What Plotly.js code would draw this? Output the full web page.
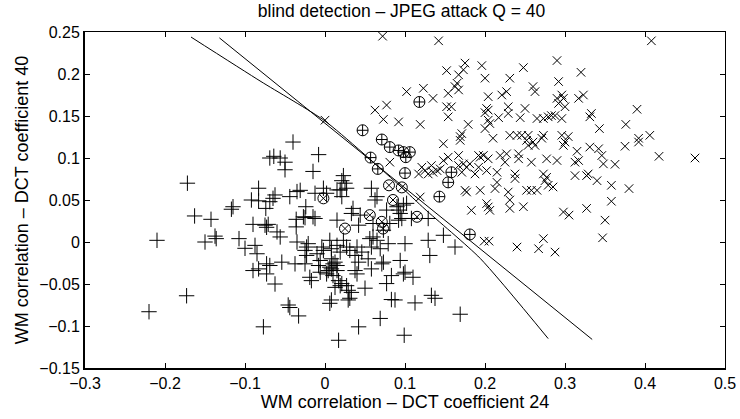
<!DOCTYPE html>
<html>
<head>
<meta charset="utf-8">
<script src="https://cdn.plot.ly/plotly-3.0.1.min.js"></script>
<style>html,body{margin:0;padding:0;background:#fff;}#chart{width:740px;height:419px;}</style>
</head>
<body>
<div id="chart"></div>
<script>
// Class "+" (correctly classified)
const plusX = [-0.172,-0.040,-0.069,-0.064,-0.056,-0.050,-0.050,-0.008,-0.015,0.023,0.021,0.025,0.027,0.019,0.015,-0.083,-0.092,-0.083,-0.0625,-0.065,-0.069,-0.074,-0.044,-0.035,-0.115,-0.117,-0.163,-0.1425,-0.210,-0.150,-0.1375,-0.136,-0.1075,-0.090,-0.075,-0.073,-0.071,-0.060,-0.056,-0.100,-0.0875,-0.085,-0.036,-0.036,-0.025,-0.024,-0.035,-0.023,-0.090,-0.083,-0.073,-0.069,-0.054,-0.0375,-0.073,-0.0625,-0.019,-0.017,-0.173,-0.220,-0.046,-0.044,-0.033,-0.077,0.017,0.042,-0.008,-0.006,0.004,0.002,0.006,0.015,-0.002,-0.010,-0.006,0.010,0.017,0.019,0.027,0.029,0.031,0.008,0.006,0.0375,0.040,0.050,-0.021,-0.025,-0.023,-0.025,-0.004,0.006,0.008,0.015,0.023,0.019,0.027,0.031,0.040,0.0375,0.046,0.042,0.054,0.058,0.065,0.069,0.079,0.071,0.058,0.056,0.008,0.010,0.015,0.008,0.0125,0.021,0.0125,0.033,0.029,0.077,0.083,0.098,0.110,0.094,0.100,0.129,0.131,0.148,0.1625,0.083,0.0875,0.1125,0.133,0.1375,0.169,0.069,0.099,0.100,0.073,0.073,0.081,0.060,0.108,0.094,0.129,-0.002,-0.0125,0.002,-0.027,0.021,0.058,0.065,0.0625,0.035,0.033,0.044,0.077,0.090,0.092,0.098,0.102,-0.0125,-0.015,0.015,0.042,0.060,0.092,0.096,-0.031];
const plusY = [0.070,0.119,0.100,0.102,0.100,0.095,0.086,0.104,0.084,0.079,0.073,0.070,0.064,0.062,0.062,0.064,0.050,0.049,0.056,0.052,0.048,0.040,0.054,0.060,0.042,0.039,0.031,0.027,0.002,0.000,0.007,0.004,0.004,0.021,0.020,0.0175,0.021,0.012,0.006,-0.0075,-0.004,-0.014,0.018,0.027,0.029,0.042,0.000,-0.006,-0.034,-0.032,-0.026,-0.028,-0.024,-0.026,-0.038,-0.050,-0.042,-0.046,-0.064,-0.083,-0.075,-0.078,-0.088,-0.101,-0.117,-0.101,-0.028,-0.036,-0.034,-0.038,-0.030,-0.028,-0.010,-0.014,-0.022,-0.040,-0.046,-0.052,-0.052,-0.0575,-0.067,-0.069,-0.073,-0.034,-0.038,-0.055,-0.002,-0.010,-0.016,-0.026,-0.006,0.002,-0.008,-0.004,0.002,-0.012,-0.006,-0.010,-0.006,-0.016,-0.012,-0.024,-0.020,-0.006,0.002,-0.008,-0.002,-0.026,-0.032,0.004,-0.032,-0.026,-0.034,-0.020,-0.024,-0.0495,-0.054,-0.060,-0.069,-0.0495,-0.040,-0.038,-0.042,-0.022,-0.002,0.002,-0.016,0.008,-0.006,-0.0685,-0.069,-0.0725,-0.0635,-0.067,-0.086,-0.091,-0.111,-0.036,-0.024,0.014,0.022,0.006,0.028,0.034,0.028,0.064,0.058,0.058,0.030,0.054,0.064,0.054,0.050,0.040,0.034,0.032,0.038,0.042,0.038,0.044,0.046,0.028,0.030,0.026,0.020,0.022,0.026,0.028,0.0615];
// Class "x" (correctly classified)
const crossX = [0.072,0.142,0.408,0.152,0.167,0.175,0.173,0.196,0.200,0.165,0.1625,0.167,0.154,0.102,0.123,0.135,0.231,0.248,0.290,0.292,0.320,0.152,0.158,0.154,0.119,0.0625,0.077,0.073,0.092,0.204,0.221,0.227,0.202,0.204,0.200,0.204,0.200,0.206,0.217,0.229,0.229,0.250,0.244,0.260,0.2625,0.265,0.273,0.279,0.283,0.2875,0.290,0.292,0.296,0.298,0.300,0.296,0.317,0.323,0.333,0.331,0.343,0.390,0.376,0.179,0.171,0.169,0.231,0.240,0.246,0.254,0.273,0.271,0.210,0.296,0.304,0.392,0.406,0.298,0.300,0.315,0.3125,0.317,0.331,0.342,0.346,0.348,0.3625,0.375,0.392,0.4175,0.4625,0.3125,0.327,0.329,0.340,0.358,0.380,0.358,0.298,0.305,0.327,0.350,0.347,0.148,0.169,0.154,0.167,0.148,0.121,0.125,0.129,0.135,0.133,0.140,0.144,0.117,0.167,0.173,0.177,0.181,0.171,0.192,0.194,0.198,0.204,0.1875,0.192,0.202,0.215,0.219,0.227,0.225,0.242,0.242,0.254,0.2625,0.260,0.258,0.277,0.290,0.175,0.177,0.194,0.215,0.2125,0.2375,0.2375,0.229,0.231,0.231,0.248,0.252,0.258,0.265,0.273,0.277,0.275,0.279,0.285,0.202,0.204,0.206,0.183,0.199,0.205,0.240,0.267,0.273,0.2875,0.119,0.000,0.081,0.252];
const crossY = [0.245,0.2395,0.2395,0.204,0.199,0.213,0.205,0.210,0.195,0.189,0.185,0.181,0.177,0.179,0.183,0.171,0.195,0.2076,0.216,0.191,0.202,0.161,0.161,0.149,0.140,0.157,0.163,0.146,0.143,0.173,0.175,0.179,0.159,0.157,0.154,0.145,0.135,0.141,0.148,0.161,0.153,0.159,0.148,0.185,0.179,0.147,0.147,0.149,0.1505,0.1505,0.171,0.165,0.175,0.171,0.161,0.147,0.171,0.175,0.153,0.149,0.135,0.158,0.140,0.140,0.129,0.1255,0.127,0.127,0.127,0.127,0.127,0.1235,0.1235,0.127,0.1255,0.1235,0.127,0.115,0.119,0.108,0.095,0.097,0.113,0.111,0.103,0.093,0.0925,0.114,0.119,0.102,0.100,0.079,0.079,0.081,0.073,0.0675,0.0636,0.0485,0.0357,0.032,0.040,0.026,0.005,0.117,0.121,0.101,0.103,0.097,0.089,0.085,0.081,0.083,0.091,0.085,0.087,0.081,0.091,0.093,0.089,0.093,0.083,0.103,0.101,0.103,0.099,0.081,0.089,0.085,0.083,0.103,0.105,0.095,0.105,0.099,0.115,0.115,0.119,0.095,0.099,0.097,0.0615,0.0595,0.0615,0.071,0.0636,0.081,0.0755,0.0595,0.050,0.040,0.042,0.0615,0.0615,0.0615,0.081,0.077,0.073,0.0675,0.0655,0.0457,0.0417,0.0377,0.0377,0.001,0.001,-0.006,-0.008,0.004,-0.012,0.0536,0.145,0.095,0.121];
// Misclassified "+" (circled)
const missPlusX = [0.047,0.118,0.071,0.081,0.092,0.098,0.106,0.101,0.057,0.066,0.100,0.158,0.154,0.143,0.181];
const missPlusY = [0.133,0.1667,0.122,0.113,0.109,0.107,0.107,0.101,0.1005,0.087,0.082,0.083,0.071,0.054,0.009];
// Misclassified "x" (circled)
const missCrossX = [-0.002,0.080,0.096,0.085,0.056,0.071,0.0725,0.115,0.025];
const missCrossY = [0.052,0.0675,0.065,0.050,0.032,0.024,0.016,0.030,0.016];
// Decision boundaries
const boundQuadX = [-0.1675,-0.08,0,0.094,0.125,0.194,0.279];
const boundQuadY = [0.244,0.191,0.144,0.0665,0.039,-0.0195,-0.115];
const boundLinX = [-0.132,0.334];
const boundLinY = [0.243,-0.116];

const xTicks = [-0.3,-0.2,-0.1,0,0.1,0.2,0.3,0.4,0.5];
const yTicks = [-0.15,-0.1,-0.05,0,0.05,0.1,0.15,0.2,0.25];

const mk = (sym, size) => ({symbol: sym, size: size, color: 'black', line: {color: 'black', width: 1}});
const traces = [
  {x: plusX, y: plusY, mode: 'markers', type: 'scatter', marker: mk('cross-thin-open', 11), hoverinfo: 'skip'},
  {x: crossX, y: crossY, mode: 'markers', type: 'scatter', marker: mk('x-thin-open', 8.5), hoverinfo: 'skip'},
  {x: missPlusX, y: missPlusY, mode: 'markers', type: 'scatter', marker: mk('circle-cross-open', 11), hoverinfo: 'skip'},
  {x: missCrossX, y: missCrossY, mode: 'markers', type: 'scatter', marker: mk('circle-x-open', 11), hoverinfo: 'skip'},
  {x: boundQuadX, y: boundQuadY, mode: 'lines', type: 'scatter', line: {color: 'black', width: 1, shape: 'spline', smoothing: 0.6}, hoverinfo: 'skip'},
  {x: boundLinX, y: boundLinY, mode: 'lines', type: 'scatter', line: {color: 'black', width: 1}, hoverinfo: 'skip'},
  {x: [0], y: [0], xaxis: 'x2', yaxis: 'y2', mode: 'markers', marker: {opacity: 0}, hoverinfo: 'skip'}
];

const font = {family: 'Liberation Sans, Arial, sans-serif', color: 'black'};
const fmt = v => v < 0 ? '\u2212' + String(-v) : String(v);
const layout = {
  width: 740, height: 419,
  margin: {l: 85, r: 15, t: 32, b: 51},
  paper_bgcolor: 'white', plot_bgcolor: 'white',
  showlegend: false,
  font: Object.assign({size: 16}, font),
  title: {text: 'blind detection \u2013 JPEG attack Q = 40', font: Object.assign({size: 17.5}, font), x: 0.5426, xanchor: 'center', y: 0.975, yanchor: 'middle'},
  xaxis: {
    range: [-0.3, 0.5], tickvals: xTicks, ticktext: xTicks.map(fmt),
    showgrid: false, zeroline: false, showline: true, linecolor: 'black', linewidth: 2,
    ticks: 'inside', ticklen: 5, tickcolor: 'black', tickfont: Object.assign({size: 16}, font),
    title: {text: 'WM correlation \u2013 DCT coefficient 24', font: Object.assign({size: 18}, font), standoff: 0}
  },
  yaxis: {
    range: [-0.15, 0.25], tickvals: yTicks, ticktext: yTicks.map(fmt),
    showgrid: false, zeroline: false, showline: true, linecolor: 'black', linewidth: 2,
    ticks: 'inside', ticklen: 5, tickcolor: 'black', tickfont: Object.assign({size: 16}, font),
    title: {text: 'WM correlation \u2013 DCT coefficient 40', font: Object.assign({size: 18}, font), standoff: 6}
  },
  xaxis2: {overlaying: 'x', side: 'top', matches: 'x', range: [-0.3, 0.5], tickvals: xTicks, showticklabels: false,
    showgrid: false, zeroline: false, showline: true, linecolor: 'black', linewidth: 1, ticks: 'inside', ticklen: 5, tickcolor: 'black'},
  yaxis2: {overlaying: 'y', side: 'right', matches: 'y', range: [-0.15, 0.25], tickvals: yTicks, showticklabels: false,
    showgrid: false, zeroline: false, showline: true, linecolor: 'black', linewidth: 1, ticks: 'inside', ticklen: 5, tickcolor: 'black'}
};
Plotly.newPlot('chart', traces, layout, {staticPlot: true});
</script>
</body>
</html>
